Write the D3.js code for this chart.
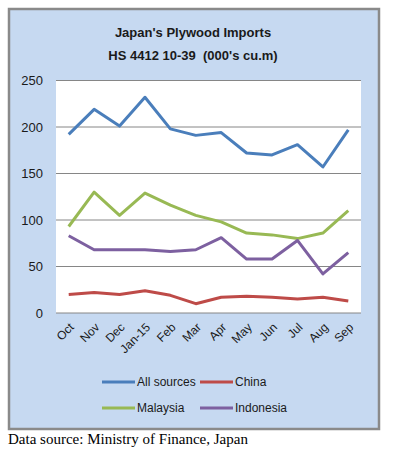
<!DOCTYPE html>
<html lang="en">
<head>
  <meta charset="utf-8">
  <title>Japan's Plywood Imports</title>
  <script src="https://cdn.jsdelivr.net/npm/d3@7/dist/d3.min.js"></script>
  <style>
    * { margin: 0; padding: 0; }
    body { background: #fff; }
  </style>
</head>
<body>
  <div id="chart"></div>
  <script>
    // data (000's cu.m)
    var months = ["Oct", "Nov", "Dec", "Jan-15", "Feb", "Mar", "Apr", "May", "Jun", "Jul", "Aug", "Sep"];
    var allSources = [192, 219, 201, 232, 198, 191, 194, 172, 170, 181, 157, 197];
    var china = [20, 22, 20, 24, 19, 10, 17, 18, 17, 15, 17, 13];
    var malaysia = [93, 130, 105, 129, 116, 105, 98, 86, 84, 80, 86, 110];
    var indonesia = [83, 68, 68, 68, 66, 68, 81, 58, 58, 78, 42, 65];
    var yTicks = [0, 50, 100, 150, 200, 250];

    var series = [
      { name: "All sources", values: allSources, color: "#4a7ebb" },
      { name: "China", values: china, color: "#be4b48" },
      { name: "Malaysia", values: malaysia, color: "#98b954" },
      { name: "Indonesia", values: indonesia, color: "#7d60a0" }
    ];

    var width = 393, height = 454;
    var plot = { left: 56, right: 361, top: 80.5, bottom: 313 };
    var font = "Liberation Sans, Arial, sans-serif";

    var svg = d3.select("#chart").append("svg")
      .attr("width", width)
      .attr("height", height);

    // outer chart box
    svg.append("rect")
      .attr("x", 9).attr("y", 9)
      .attr("width", 370).attr("height", 420)
      .attr("fill", "#c6d9f1")
      .attr("stroke", "#8a8a8a")
      .attr("stroke-width", 2.5);

    // title
    var title = svg.append("text")
      .attr("text-anchor", "middle")
      .attr("font-family", font)
      .attr("font-weight", "bold")
      .attr("font-size", "13px")
      .attr("fill", "#1a1a1a");
    title.append("tspan").attr("x", 193).attr("y", 37).text("Japan's Plywood Imports");
    title.append("tspan").attr("x", 193).attr("y", 60).attr("xml:space", "preserve").text("HS 4412 10-39  (000's cu.m)");

    // plot area
    svg.append("rect")
      .attr("x", plot.left).attr("y", plot.top)
      .attr("width", plot.right - plot.left)
      .attr("height", plot.bottom - plot.top)
      .attr("fill", "#fff");

    var x = d3.scaleBand()
      .domain(months)
      .range([plot.left, plot.right]);

    var y = d3.scaleLinear()
      .domain([0, 250])
      .range([plot.bottom, plot.top]);

    // grid lines
    svg.append("g")
      .selectAll("line")
      .data(yTicks)
      .join("line")
      .attr("x1", plot.left).attr("x2", plot.right)
      .attr("y1", function(d) { return y(d); })
      .attr("y2", function(d) { return y(d); })
      .attr("stroke", "#868686")
      .attr("stroke-width", 1);

    // y axis labels
    var yAxis = d3.axisLeft(y).tickValues(yTicks).tickSize(0).tickPadding(13);
    var yG = svg.append("g")
      .attr("transform", "translate(" + plot.left + ",0)")
      .call(yAxis);
    yG.select(".domain").remove();
    yG.selectAll("text")
      .attr("font-family", font)
      .attr("font-size", "13px")
      .attr("fill", "#1a1a1a");

    // x axis labels
    var xAxis = d3.axisBottom(x).tickSize(0).tickPadding(0);
    var xG = svg.append("g")
      .attr("transform", "translate(0," + plot.bottom + ")")
      .call(xAxis);
    xG.select(".domain").remove();
    xG.selectAll("text")
      .attr("font-family", font)
      .attr("font-size", "12px")
      .attr("fill", "#1a1a1a")
      .attr("text-anchor", "end")
      .attr("dy", "0")
      .attr("transform", "translate(6,15) rotate(-45)");

    // lines
    var line = d3.line()
      .x(function(d, i) { return x(months[i]) + x.bandwidth() / 2; })
      .y(function(d) { return y(d); });

    svg.append("g")
      .selectAll("path")
      .data(series)
      .join("path")
      .attr("d", function(s) { return line(s.values); })
      .attr("fill", "none")
      .attr("stroke", function(s) { return s.color; })
      .attr("stroke-width", 3)
      .attr("stroke-linejoin", "round");

    // legend
    var legendPos = [[102, 382], [200, 382], [102, 408], [200, 408]];
    var legend = svg.append("g")
      .selectAll("g")
      .data(series)
      .join("g")
      .attr("transform", function(s, i) { return "translate(" + legendPos[i][0] + "," + legendPos[i][1] + ")"; });
    legend.append("line")
      .attr("x1", 0).attr("x2", 33)
      .attr("stroke", function(s) { return s.color; })
      .attr("stroke-width", 3);
    legend.append("text")
      .attr("x", 35)
      .attr("dy", "0.35em")
      .attr("font-family", font)
      .attr("font-size", "12px")
      .attr("fill", "#1a1a1a")
      .text(function(s) { return s.name; });

    // source note
    svg.append("text")
      .attr("x", 8).attr("y", 444)
      .attr("font-family", "Liberation Serif, Times New Roman, serif")
      .attr("font-size", "15px")
      .attr("fill", "#000")
      .text("Data source: Ministry of Finance, Japan");
  </script>
</body>
</html>
